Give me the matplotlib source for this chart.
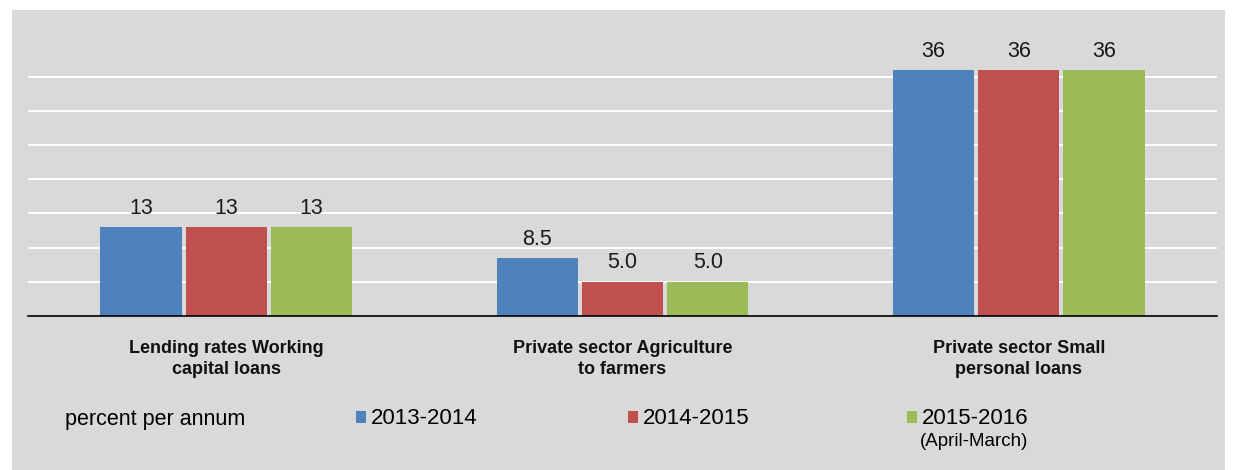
import matplotlib
matplotlib.use("Agg")
import matplotlib.pyplot as plt
from matplotlib.patches import Rectangle
import numpy as np

categories = ["Lending rates Working\ncapital loans",
              "Private sector Agriculture\nto farmers",
              "Private sector Small\npersonal loans"]
series = ["2013-2014", "2014-2015", "2015-2016"]
values_1314 = [13, 8.5, 36]
values_1415 = [13, 5.0, 36]
values_1516 = [13, 5.0, 36]
decimals = [0, 1, 0]  # how the labels are printed per category
colors = ["#4f81bd", "#c0504d", "#9bbb59"]

plt.rcParams['font.family'] = ['Liberation Sans', 'DejaVu Sans']

fig = plt.figure(figsize=(12.36, 4.70), dpi=100)
fig.patch.set_facecolor("white")
# grey panel behind everything
fig.patches.append(Rectangle((12/1236, 0), (1225-12)/1236, (470-10)/470,
                             transform=fig.transFigure, facecolor="#d9d9d9",
                             edgecolor="none", zorder=-10))

ax = fig.add_axes([28/1236, (470-316)/470, (1217-28)/1236, (316-42.6)/470])
ax.set_facecolor("none")

x = np.arange(len(categories))
w = 0.205
step = 0.215
allvals = [values_1314, values_1415, values_1516]
bars = []
for i, vals in enumerate(allvals):
    b = ax.bar(x + (i-1)*step, vals, w, color=colors[i], label=series[i], zorder=3)
    labs = [f"{v:.{d}f}" for v, d in zip(vals, decimals)]
    ax.bar_label(b, labels=labs, padding=6, fontsize=15.5, color="#1a1a1a")
    bars.append(b)

ax.set_xlim(-0.5, 2.5)
ax.set_ylim(0, 40)
ax.set_yticks(range(5, 40, 5))
ax.yaxis.grid(True, color="white", lw=1.4, zorder=1)
ax.set_axisbelow(True)
ax.tick_params(axis="y", left=False, labelleft=False)
ax.tick_params(axis="x", length=0, pad=17)
ax.set_xticks(x)
ax.set_xticklabels(categories, fontweight="bold", fontsize=13, linespacing=1.3,
                   color="#111111")
for s in ["top", "left", "right"]:
    ax.spines[s].set_visible(False)
ax.spines["bottom"].set_color("black")
ax.spines["bottom"].set_linewidth(1.2)
ax.spines["bottom"].set_zorder(4)

fig.text(65/1236, 1 - 419/470, "percent per annum", fontsize=15.5, va="center", ha="left")

leg_x = [356, 628, 907]
for i in range(3):
    leg = fig.legend(handles=[bars[i]], labels=[series[i]], loc="center left",
                     bbox_to_anchor=(leg_x[i]/1236, 1 - 419/470), frameon=False,
                     fontsize=16, handlelength=0.45, handleheight=0.45,
                     handletextpad=0.2, borderpad=0, borderaxespad=0)
fig.text(920/1236, 1 - 441/470, "(April-March)", fontsize=13.5, va="center", ha="left")

fig.savefig("out.png", dpi=100)
